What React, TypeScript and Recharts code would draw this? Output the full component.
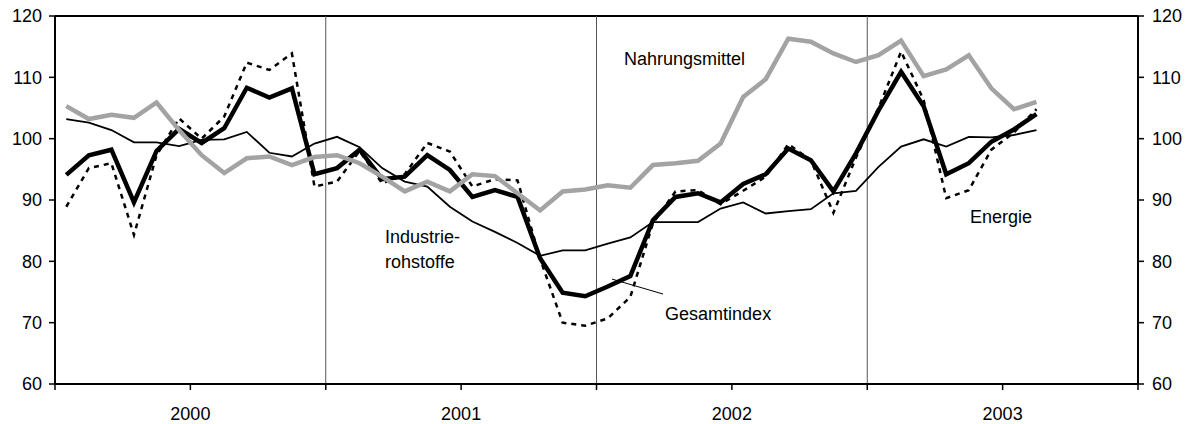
import React from 'react';
import { LineChart, Line, XAxis, YAxis, ReferenceLine, ReferenceDot } from 'recharts';

const years = ['2000', '2001', '2002', '2003'];
const yTicks = [60, 70, 80, 90, 100, 110, 120];

const gesamtindex = [94.1, 97.3, 98.2, 89.6, 98.0, 101.6, 99.3, 101.7, 108.3, 106.7, 108.2, 94.2,
  95.2, 98.2, 93.4, 93.8, 97.3, 94.9, 90.5, 91.6, 90.5, 80.5, 74.9, 74.3,
  75.9, 77.6, 86.7, 90.5, 91.1, 89.6, 92.6, 94.2, 98.4, 96.5, 91.4, 97.6,
  104.6, 110.9, 105.3, 94.2, 96.0, 99.5, 101.5, 104.0];

const energie = [88.9, 95.2, 96.0, 84.3, 97.3, 103.3, 100.0, 103.6, 112.4, 111.2, 113.9, 92.2,
  93.0, 98.0, 92.7, 94.2, 99.3, 97.9, 92.2, 93.4, 93.2, 80.4, 70.0, 69.5,
  70.7, 74.2, 86.2, 91.4, 91.6, 89.3, 91.5, 93.8, 99.1, 96.5, 87.9, 96.9,
  105.0, 114.2, 106.3, 90.3, 91.6, 98.2, 101.0, 104.8];

const industrierohstoffe = [103.2, 102.6, 101.4, 99.4, 99.4, 98.8, 99.8, 99.9, 101.1, 97.7, 97.1, 99.2,
  100.3, 98.6, 95.2, 93.0, 92.2, 88.9, 86.5, 84.8, 83.0, 80.9, 81.8, 81.8,
  82.9, 83.9, 86.4, 86.4, 86.4, 88.6, 89.6, 87.8, 88.2, 88.5, 91.1, 91.5,
  95.4, 98.7, 99.9, 98.7, 100.3, 100.2, 100.6, 101.4];

const nahrungsmittel = [105.3, 103.2, 103.9, 103.4, 105.9, 101.4, 97.3, 94.4, 96.8, 97.1, 95.7, 97.0,
  97.3, 96.0, 93.8, 91.4, 93.0, 91.4, 94.2, 93.9, 91.1, 88.3, 91.4, 91.7,
  92.4, 92.0, 95.7, 96.0, 96.4, 99.2, 106.8, 109.7, 116.3, 115.8, 113.9, 112.5,
  113.6, 116.0, 110.2, 111.3, 113.6, 108.2, 104.8, 106.0];

const data = gesamtindex.map((g, i) => ({
  m: i + 0.5,
  ges: g,
  ene: energie[i],
  ind: industrierohstoffe[i],
  nah: nahrungsmittel[i],
}));

const xTicks = [0, 6, 12, 18, 24, 30, 36, 42, 48];
const xFmt = (v: number) => (v % 12 === 6 ? years[Math.floor(v / 12)] : '');

const FONT = '"Liberation Sans", Arial, Helvetica, sans-serif';
const tickStyle = { fontSize: 18, fill: '#000', fontFamily: FONT };
const labelStyle = { fontSize: 18, fill: '#000', fontFamily: FONT };

export default function App() {
  return (
    <div style={{ position: 'absolute', left: 0, top: 0, width: 1194, height: 424, background: '#fff' }}>
      <LineChart width={1194} height={424} data={data} margin={{ top: 16, right: 0, bottom: 0, left: 0 }}>
        <XAxis
          type="number"
          dataKey="m"
          domain={[0, 48]}
          ticks={xTicks}
          tickFormatter={xFmt}
          interval={0}
          height={40}
          axisLine={{ stroke: '#000', strokeWidth: 2 }}
          tickLine={{ stroke: '#000', strokeWidth: 1.5 }}
          tickSize={6}
          tickMargin={17}
          tick={tickStyle}
        />
        <YAxis
          yAxisId="l"
          orientation="left"
          domain={[60, 120]}
          ticks={yTicks}
          width={55}
          interval={0}
          axisLine={{ stroke: '#000', strokeWidth: 2 }}
          tickLine={{ stroke: '#000', strokeWidth: 1.5 }}
          tickSize={6}
          tickMargin={7}
          tick={tickStyle}
        />
        <YAxis
          yAxisId="r"
          orientation="right"
          domain={[60, 120]}
          ticks={yTicks}
          width={56}
          interval={0}
          axisLine={{ stroke: '#000', strokeWidth: 2 }}
          tickLine={{ stroke: '#000', strokeWidth: 1.5 }}
          tickSize={6}
          tickMargin={8}
          tick={tickStyle}
        />
        <ReferenceLine yAxisId="l" y={120} stroke="#000" strokeWidth={2} />
        <ReferenceLine yAxisId="l" x={12} stroke="#555" strokeWidth={1} />
        <ReferenceLine yAxisId="l" x={24} stroke="#555" strokeWidth={1} />
        <ReferenceLine yAxisId="l" x={36} stroke="#555" strokeWidth={1} />
        <ReferenceLine
          yAxisId="l"
          segment={[{ x: 24.69, y: 77.1 }, { x: 26.95, y: 74.67 }]}
          stroke="#000"
          strokeWidth={1}
        />
        <Line yAxisId="r" dataKey="ind" stroke="#000" strokeWidth={1.8} dot={false} isAnimationActive={false} />
        <Line yAxisId="l" dataKey="ene" stroke="#000" strokeWidth={2.5} strokeDasharray="5 5" dot={false} isAnimationActive={false} />
        <Line yAxisId="l" dataKey="ges" stroke="#000" strokeWidth={4.5} dot={false} isAnimationActive={false} />
        <Line yAxisId="l" dataKey="nah" stroke="#a3a3a3" strokeWidth={4.5} dot={false} isAnimationActive={false} />
        <ReferenceDot yAxisId="l" x={27.9} y={113.07} r={0} stroke="none" fill="none"
          label={{ value: 'Nahrungsmittel', position: 'center', ...labelStyle }} />
        <ReferenceDot yAxisId="l" x={14.63} y={83.97} r={0} stroke="none" fill="none"
          label={{ value: 'Industrie-', position: 'right', offset: 0, ...labelStyle }} />
        <ReferenceDot yAxisId="l" x={14.63} y={79.89} r={0} stroke="none" fill="none"
          label={{ value: 'rohstoffe', position: 'right', offset: 0, ...labelStyle }} />
        <ReferenceDot yAxisId="l" x={27.04} y={71.49} r={0} stroke="none" fill="none"
          label={{ value: 'Gesamtindex', position: 'right', offset: 0, ...labelStyle }} />
        <ReferenceDot yAxisId="l" x={40.55} y={87.31} r={0} stroke="none" fill="none"
          label={{ value: 'Energie', position: 'right', offset: 0, ...labelStyle }} />
      </LineChart>
    </div>
  );
}
